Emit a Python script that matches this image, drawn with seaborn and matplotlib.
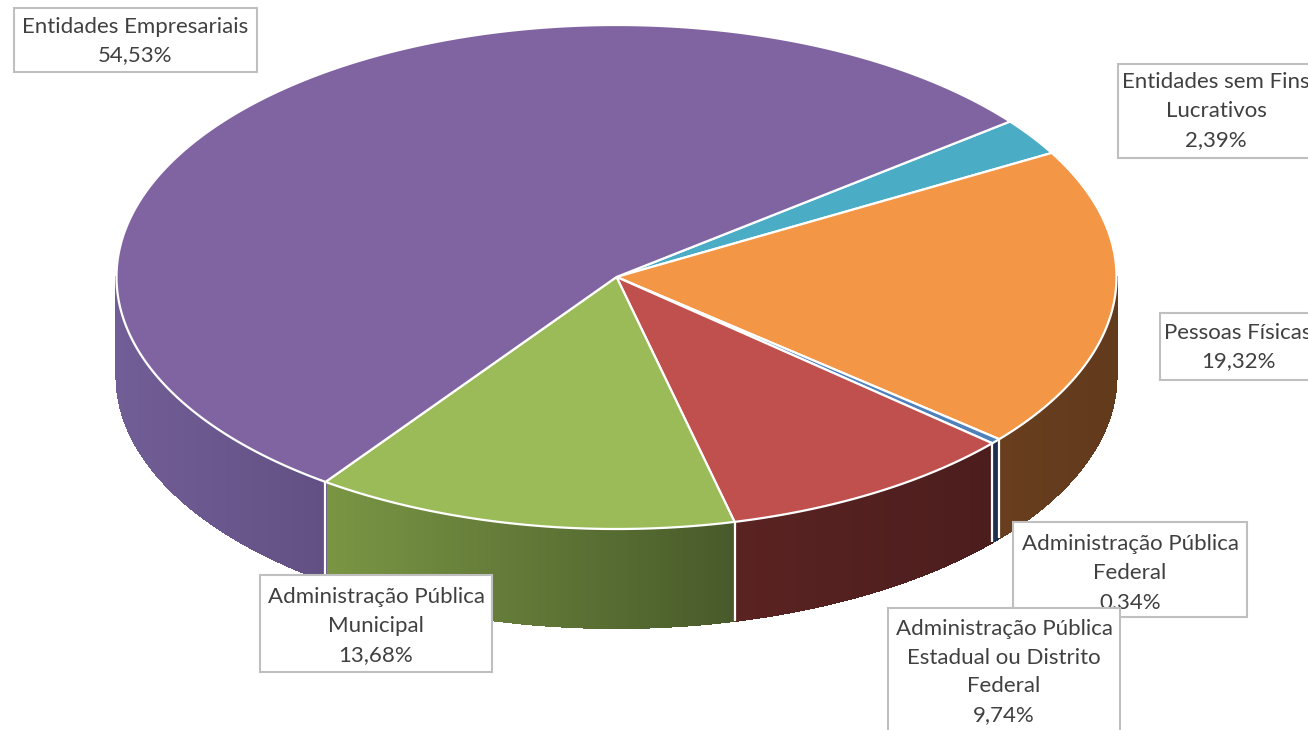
import numpy as np
import matplotlib
matplotlib.use("Agg")
import matplotlib.pyplot as plt
from matplotlib.patches import Polygon, Rectangle
from matplotlib.collections import PolyCollection
import seaborn as sns

# ---------------- data ----------------
categories = [
    "Entidades sem Fins\nLucrativos",
    "Pessoas Físicas",
    "Administração Pública\nFederal",
    "Administração Pública\nEstadual ou Distrito\nFederal",
    "Administração Pública\nMunicipal",
    "Entidades Empresariais",
]
values = [2.39, 19.32, 0.34, 9.74, 13.68, 54.53]

# ---------------- styles ----------------
top_colors = ["#4BACC6", "#F39645", "#4F81BD", "#C0504D", "#9BBB59", "#8064A2"]
side_left = [(60, 120, 140), (104, 62, 30), (32, 52, 84), (90, 35, 34), (122, 150, 68), (114, 94, 150)]
side_right = [(50, 100, 120), (98, 58, 28), (28, 46, 76), (76, 29, 29), (72, 90, 42), (98, 80, 132)]

# label box layout (x0, y0, x1, y1) and text centres, in pixel space
boxes = [
    (1118, 64, 1330, 158),
    (1160, 313, 1330, 380),
    (1013, 522, 1247, 617),
    (888, 608, 1120, 745),
    (260, 575, 492, 672),
    (14, 8, 257, 72),
]
text_pos = [(1216, 111), (1238, 347), (1130, 573), (1004, 672), (376, 626), (135, 41)]
box_z = [10, 10, 10, 12, 10, 10]

sns.set_theme(style="white")
plt.rcParams["font.family"] = ["Lato", "DejaVu Sans"]

W, H = 1308, 730
fig = plt.figure(figsize=(W / 100, H / 100), dpi=100)
ax = fig.add_axes([0, 0, 1, 1])
ax.set_xlim(0, W)
ax.set_ylim(H, 0)
ax.axis("off")

cx, cy, rx, ry, depth = 616.5, 277, 500, 252, 99
start = 38.1


def pt(theta, dy=0.0):
    t = np.radians(theta)
    return cx + rx * np.cos(t), cy - ry * np.sin(t) + dy


vals = np.array(values, dtype=float)
cum = np.concatenate([[0], np.cumsum(vals) / vals.sum() * 360])
spans = [(start - cum[i + 1], start - cum[i]) for i in range(len(vals))]

# ----- sides (front half: theta in [-180, 0]) -----
boundaries = []
for i, (a, b) in enumerate(spans):
    lo, hi = max(a, -180), min(b, 0)
    if hi <= lo:
        continue
    n = max(2, int((hi - lo) * 2))
    th = np.linspace(lo, hi, n + 1)
    x_lo, x_hi = pt(lo)[0], pt(hi)[0]
    cl = np.array(side_left[i]) / 255
    cr = np.array(side_right[i]) / 255
    # smooth base shape
    outline = [pt(t) for t in th] + [pt(t, depth) for t in th[::-1]]
    ax.add_patch(Polygon(outline, closed=True, facecolor=(cl + cr) / 2, edgecolor="none", zorder=1))
    polys, cols = [], []
    for j in range(n):
        t0, t1 = th[j], th[j + 1]
        p0, p1 = pt(t0), pt(t1)
        polys.append([p0, p1, (p1[0], p1[1] + depth), (p0[0], p0[1] + depth)])
        xm = 0.5 * (p0[0] + p1[0])
        f = 0 if x_hi == x_lo else (xm - x_lo) / (x_hi - x_lo)
        cols.append(cl * (1 - f) + cr * f)
    pc = PolyCollection(polys, facecolors=cols, edgecolors=cols, linewidths=0.8,
                        antialiased=False, zorder=1.5)
    ax.add_collection(pc)
    for t in (a, b):
        if -180 < t < 0:
            boundaries.append(t)

for t in set(np.round(boundaries, 4)):
    x, y = pt(t)
    ax.plot([x, x], [y, y + depth], color="white", lw=1.6, zorder=2, solid_capstyle="butt")

# ----- top wedges -----
for i, (a, b) in enumerate(spans):
    th = np.linspace(a, b, max(3, int((b - a) * 3)))
    pts = [(cx, cy)] + [pt(t) for t in th]
    ax.add_patch(Polygon(pts, closed=True, facecolor=top_colors[i], edgecolor="white",
                         lw=1.6, joinstyle="round", zorder=3))

# ----- labels -----
for i, name in enumerate(categories):
    x0, y0, x1, y1 = boxes[i]
    ax.add_patch(Rectangle((x0, y0), x1 - x0, y1 - y0, facecolor="white",
                           edgecolor="#BFBFBF", lw=1.5, zorder=box_z[i]))
    pct = f"{values[i]:.2f}".replace(".", ",") + "%"
    ax.text(text_pos[i][0], text_pos[i][1], f"{name}\n{pct}", ha="center", va="center",
            fontsize=16, color="#404040", linespacing=1.55, zorder=box_z[i] + 1)

fig.savefig("out.png", dpi=100)
